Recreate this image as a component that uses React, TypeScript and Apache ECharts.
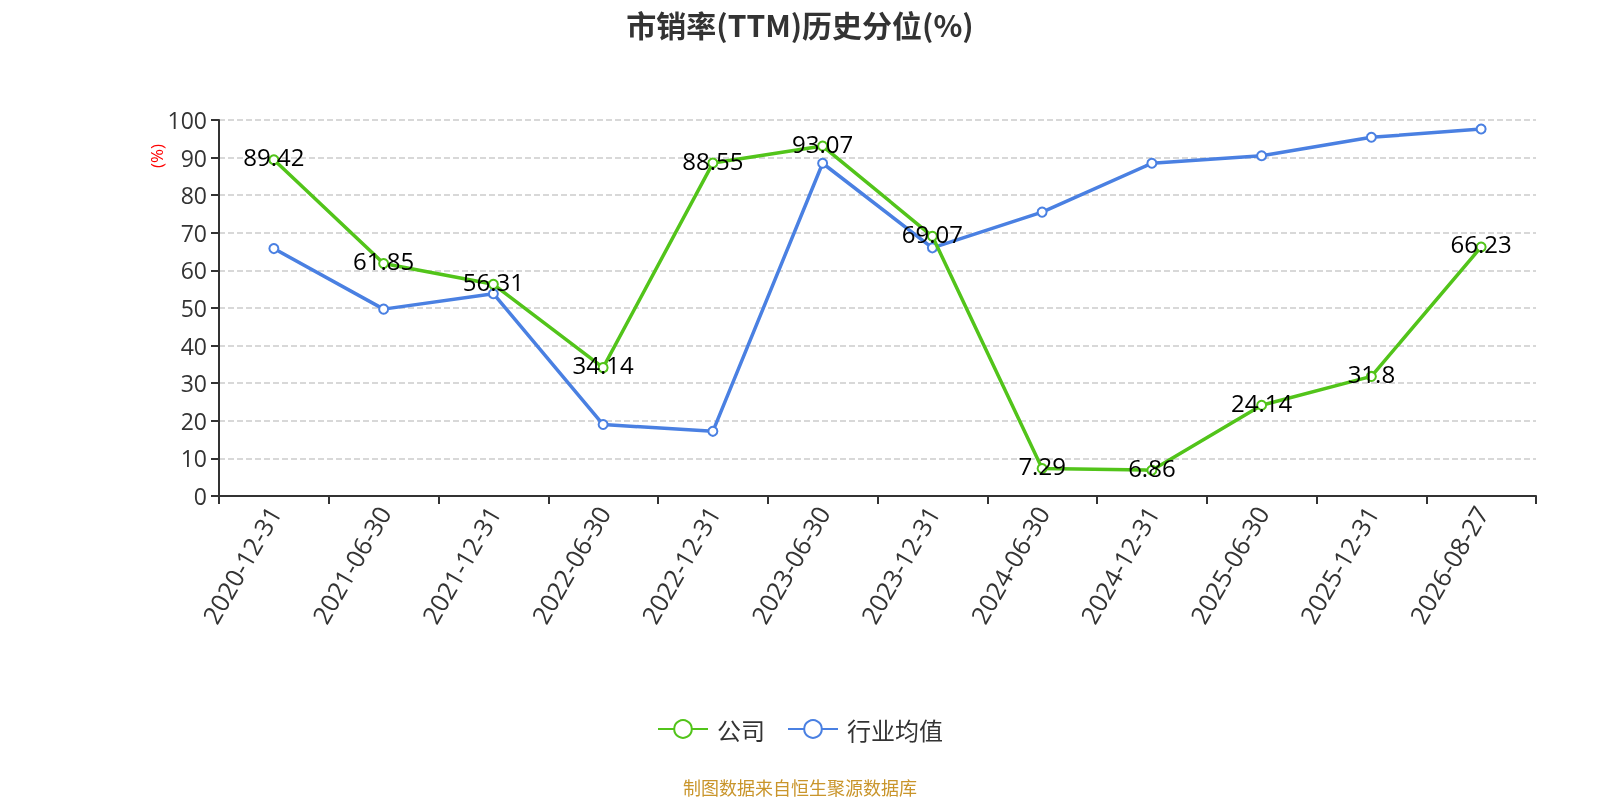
import React, { useEffect, useRef } from "react";
import * as echarts from "echarts";

const categories = [
  "2020-12-31", "2021-06-30", "2021-12-31", "2022-06-30", "2022-12-31", "2023-06-30",
  "2023-12-31", "2024-06-30", "2024-12-31", "2025-06-30", "2025-12-31", "2026-08-27",
];
const companyValues = [89.42, 61.85, 56.31, 34.14, 88.55, 93.07, 69.07, 7.29, 6.86, 24.14, 31.8, 66.23];
const industryValues = [65.8, 49.7, 53.8, 19.0, 17.2, 88.5, 66.0, 75.5, 88.5, 90.5, 95.4, 97.6];
const seriesNames = ["公司", "行业均值"];

export default function App() {
  const ref = useRef<HTMLDivElement>(null);
  useEffect(() => {
    const chart = echarts.init(ref.current!, null, { renderer: "svg" });
    const font = "'Open Sans', 'Noto Sans', 'Noto Sans CJK SC', sans-serif";
    chart.setOption({
      animation: false,
      textStyle: { fontFamily: font },
      title: {
        text: "市销率(TTM)历史分位(%)",
        left: "center",
        top: 4,
        textStyle: { fontSize: 30, fontWeight: "bold", color: "#333", fontFamily: "'Noto Sans CJK SC', sans-serif" },
      },
      grid: { left: 219, right: 64, top: 120, bottom: 304 },
      legend: {
        bottom: 54,
        left: "center",
        itemWidth: 50,
        itemHeight: 22,
        itemGap: 22,
        textStyle: { fontSize: 24, color: "#333", padding: [0, 0, 0, 4], fontFamily: "'Noto Sans CJK SC', sans-serif" },
        data: seriesNames,
      },
      xAxis: {
        type: "category",
        data: categories,
        boundaryGap: true,
        axisLine: { lineStyle: { color: "#333", width: 2 } },
        axisTick: { show: true, alignWithLabel: false, length: 8, lineStyle: { color: "#333", width: 2 } },
        axisLabel: { rotate: 60, fontSize: 25, color: "#333", margin: 12, interval: 0 },
      },
      yAxis: {
        type: "value",
        min: 0,
        max: 100,
        interval: 10,
        axisLine: { show: true, lineStyle: { color: "#333", width: 2 } },
        axisTick: { show: true, length: 8, lineStyle: { color: "#333", width: 2 } },
        axisLabel: { fontSize: 23, color: "#333", margin: 12 },
        splitLine: { lineStyle: { type: "dashed", color: "#ccc", width: 1.5 } },
      },
      graphic: [
        {
          type: "text",
          x: 156,
          y: 156,
          rotation: Math.PI / 2,
          style: { text: "(%)", fill: "red", fontSize: 17, textAlign: "center", textVerticalAlign: "middle", fontFamily: font },
        },
        {
          type: "text",
          left: "center",
          top: 778,
          style: { text: "制图数据来自恒生聚源数据库", fill: "#c9952b", fontSize: 18, fontFamily: "'Noto Sans CJK SC', sans-serif" },
        },
      ],
      series: [
        {
          name: seriesNames[0],
          type: "line",
          data: companyValues,
          symbol: "emptyCircle",
          symbolSize: 9,
          lineStyle: { width: 3.5, color: "#52c41a" },
          itemStyle: { color: "#52c41a", borderWidth: 2 },
          label: { show: true, position: "inside", offset: [0, -3], fontSize: 24, color: "#000", fontFamily: font },
          z: 3,
        },
        {
          name: seriesNames[1],
          type: "line",
          data: industryValues,
          symbol: "emptyCircle",
          symbolSize: 9,
          lineStyle: { width: 3.5, color: "#4a80e2" },
          itemStyle: { color: "#4a80e2", borderWidth: 2 },
          z: 2,
        },
      ],
    });
    return () => chart.dispose();
  }, []);
  return <div ref={ref} style={{ position: "fixed", left: 0, top: 0, width: 1600, height: 800 }} />;
}
